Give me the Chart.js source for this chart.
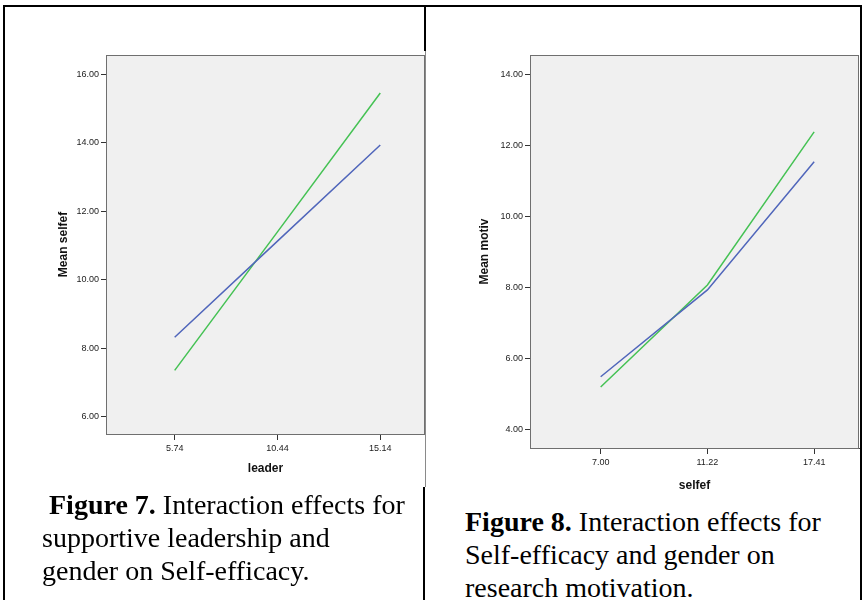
<!DOCTYPE html>
<html>
<head>
<meta charset="utf-8">
<script src="https://cdn.jsdelivr.net/npm/chart.js@4.4.1/dist/chart.umd.min.js"></script>
<style>
  html, body { margin: 0; padding: 0; background: #fff; }
  #page { position: relative; width: 865px; height: 600px; overflow: hidden; background: #fff; }
  .rule { position: absolute; background: #000; }
  .cv { position: absolute; }
  .caption { position: absolute; font-family: "Liberation Serif", "Times New Roman", serif;
             font-size: 28px; line-height: 33px; color: #000; white-space: pre; }
  .caption b { font-weight: bold; }
</style>
</head>
<body>
<div id="page">
  <div class="cv" style="left:0;top:0;width:426px;height:490px;"><canvas id="fig7"></canvas></div>
  <div class="cv" style="left:426px;top:0;width:434px;height:500px;"><canvas id="fig8"></canvas></div>

  <!-- table frame -->
  <div class="rule" style="left:3px;top:5px;width:859px;height:2px;"></div>
  <div class="rule" style="left:3px;top:5px;width:2px;height:595px;"></div>
  <div class="rule" style="left:860px;top:5px;width:2px;height:595px;"></div>
  <div class="rule" style="left:424px;top:5px;width:2px;height:46px;"></div>
  <div class="rule" style="left:423px;top:487px;width:2px;height:113px;"></div>
  <div class="rule" style="left:425px;top:51px;width:1px;height:436px;background:#8a8a8a;"></div>

  <div class="caption" style="left:42px;top:488px;"> <b>Figure 7.</b> Interaction effects for
supportive leadership and
gender on Self-efficacy.</div>
  <div class="caption" style="left:465px;top:505px;"><b>Figure 8.</b> Interaction effects for
Self-efficacy and gender on
research motivation.</div>
</div>

<script>
// Figure 7: mean self-efficacy by supportive leadership level
const leaderLevels = ['5.74', '10.44', '15.14'];
const selfefGroup1 = [8.32, 11.13, 13.94];
const selfefGroup2 = [7.35, 11.40, 15.46];
const selfefTicks = [6, 8, 10, 12, 14, 16];

// Figure 8: mean research motivation by self-efficacy level
const selfefLevels = ['7.00', '11.22', '17.41'];
const motivGroup1 = [5.48, 7.93, 11.55];
const motivGroup2 = [5.19, 8.07, 12.39];
const motivTicks = [4, 6, 8, 10, 12, 14];

const BLUE = '#5066bb';
const GREEN = '#45c254';
const FONT = '"Liberation Sans", Arial, sans-serif';

// grey plot panel with a thin frame, as in SPSS output
const plotPanel = {
  id: 'plotPanel',
  beforeDatasetsDraw(chart) {
    const { ctx, chartArea: a } = chart;
    ctx.save();
    ctx.fillStyle = '#f0f0f0';
    ctx.fillRect(a.left, a.top, a.right - a.left, a.bottom - a.top);
    ctx.restore();
  },
  afterDraw(chart) {
    const { ctx, chartArea: a } = chart;
    ctx.save();
    ctx.strokeStyle = '#6f6f6f';
    ctx.lineWidth = 1;
    ctx.strokeRect(a.left + 0.5, a.top + 0.5, a.right - a.left - 1, a.bottom - a.top);
    ctx.restore();
  }
};

function points(values) {
  return values.map((v, i) => ({ x: i, y: v }));
}

function makeChart(id, cfg) {
  return new Chart(document.getElementById(id), {
    type: 'line',
    data: {
      datasets: [
        { data: points(cfg.g1), borderColor: BLUE, borderWidth: 1.5, pointRadius: 0, tension: 0 },
        { data: points(cfg.g2), borderColor: GREEN, borderWidth: 1.5, pointRadius: 0, tension: 0 }
      ]
    },
    options: {
      responsive: true,
      maintainAspectRatio: false,
      animation: false,
      events: [],
      layout: { padding: cfg.padding },
      plugins: { legend: { display: false }, tooltip: { enabled: false } },
      scales: {
        x: {
          type: 'linear',
          min: cfg.xMin, max: cfg.xMax,
          afterBuildTicks(s) { s.ticks = cfg.levels.map((_, i) => ({ value: i })); },
          afterFit(s) { s.height = cfg.xHeight; s.paddingLeft = 0; s.paddingRight = 0; },
          ticks: {
            callback: (v) => cfg.levels[v],
            font: { family: FONT, size: 9 }, color: '#222', padding: 3,
            maxRotation: 0, autoSkip: false
          },
          grid: { drawOnChartArea: false, tickLength: 6, tickColor: '#333', tickWidth: 1 },
          border: { color: '#444', width: 1 },
          title: { display: true, text: cfg.xTitle, color: '#111',
                   font: { family: FONT, size: 12, weight: 'bold' }, padding: { top: 4, bottom: 2 } }
        },
        y: {
          type: 'linear',
          min: cfg.yMin, max: cfg.yMax,
          afterBuildTicks(s) { s.ticks = cfg.yTicks.map(v => ({ value: v })); },
          afterFit(s) { s.width = cfg.yWidth; s.paddingTop = 0; s.paddingBottom = 0; },
          ticks: {
            callback: (v) => v.toFixed(2),
            font: { family: FONT, size: 9 }, color: '#222', padding: 2
          },
          grid: { drawOnChartArea: false, tickLength: 5, tickColor: '#333', tickWidth: 1 },
          border: { color: '#444', width: 1 },
          title: { display: true, text: cfg.yTitle, color: '#111',
                   font: { family: FONT, size: 12, weight: 'bold' }, padding: { top: 5, bottom: 4 } }
        }
      }
    },
    plugins: [plotPanel]
  });
}

makeChart('fig7', {
  levels: leaderLevels, g1: selfefGroup1, g2: selfefGroup2, yTicks: selfefTicks,
  xMin: -0.668, xMax: 2.435, yMin: 5.49, yMax: 16.57,
  padding: { top: 55, left: 51, right: 1, bottom: 12 },
  yWidth: 55, xHeight: 44,
  xTitle: 'leader', yTitle: 'Mean selfef'
});

makeChart('fig8', {
  levels: selfefLevels, g1: motivGroup1, g2: motivGroup2, yTicks: motivTicks,
  xMin: -0.662, xMax: 2.42, yMin: 3.47, yMax: 14.56,
  padding: { top: 55, left: 46, right: 1, bottom: 5 },
  yWidth: 58, xHeight: 47,
  xTitle: 'selfef', yTitle: 'Mean motiv'
});
</script>
</body>
</html>
